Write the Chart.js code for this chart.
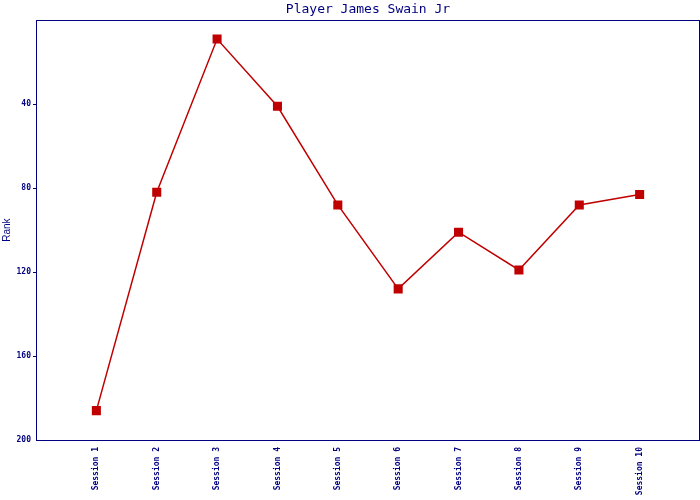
<!DOCTYPE html>
<html>
<head>
<meta charset="utf-8">
<script src="https://cdn.jsdelivr.net/npm/chart.js@4/dist/chart.umd.min.js"></script>
<style>
  html, body { margin: 0; padding: 0; background: #ffffff; }
  #wrap { width: 700px; height: 500px; }
</style>
</head>
<body>
<div id="wrap"><canvas id="rankChart"></canvas></div>
<script>
    // sessions along the x axis
    const sessions = ["Session 1", "Session 2", "Session 3", "Session 4", "Session 5",
                      "Session 6", "Session 7", "Session 8", "Session 9", "Session 10"];
    // rank of the player in each session
    const ranks = [186, 82, 9, 41, 88, 128, 101, 119, 88, 83];
    // y tick values
    const rankTicks = [0, 40, 80, 120, 160, 200];

    const navy = "#000080";
    const red = "#C00000";

    // build points, session n sits at x = n
    const points = ranks.map(function (r, i) {
        return { x: i + 1, y: r };
    });

    // draws the box round the plot area
    const frame = {
        id: "frame",
        afterDraw: function (chart) {
            const a = chart.chartArea;
            const ctx = chart.ctx;
            ctx.save();
            ctx.strokeStyle = navy;
            ctx.lineWidth = 1;
            ctx.strokeRect(Math.round(a.left) + 0.5, Math.round(a.top) + 0.5,
                Math.round(a.right - a.left) - 1, Math.round(a.bottom - a.top));
            ctx.restore();
        }
    };

    new Chart("rankChart", {
        type: "line",
        data: {
            datasets: [{
                data: points,
                borderColor: red,
                borderWidth: 1.5,
                backgroundColor: red,
                pointStyle: "rect",
                pointRadius: 6.4,
                pointBorderWidth: 0,
                pointBackgroundColor: red,
                tension: 0
            }]
        },
        options: {
            responsive: true,
            maintainAspectRatio: false,
            animation: false,
            layout: { autoPadding: false, padding: { right: 0, left: 0, top: 0, bottom: 0 } },
            plugins: {
                legend: { display: false },
                tooltip: { enabled: false },
                title: {
                    display: true,
                    text: "Player James Swain Jr",
                    fullSize: false,
                    color: navy,
                    font: { family: "DejaVu Sans Mono", size: 13, weight: "normal" },
                    padding: { top: 2, bottom: 2.6 }
                }
            },
            scales: {
                x: {
                    type: "linear",
                    min: 0,
                    max: sessions.length + 1,
                    afterBuildTicks: function (scale) {
                        scale.ticks = sessions.map(function (s, i) { return { value: i + 1 }; });
                    },
                    afterFit: function (scale) {
                        scale.height = 60;
                        scale.paddingLeft = 0;
                        scale.paddingRight = 0;
                    },
                    grid: { display: false },
                    border: { display: true, color: navy, width: 1 },
                    ticks: {
                        autoSkip: false,
                        maxRotation: 90,
                        minRotation: 90,
                        padding: -1,
                        color: navy,
                        font: { family: "DejaVu Sans Mono", size: 8, weight: "bold" },
                        callback: function (value) {
                            return sessions[value - 1] || "";
                        }
                    }
                },
                y: {
                    reverse: true,
                    min: 0,
                    max: 200,
                    afterBuildTicks: function (scale) {
                        scale.ticks = rankTicks.map(function (v) { return { value: v }; });
                    },
                    afterFit: function (scale) {
                        scale.width = 36;
                        scale.paddingTop = 0;
                        scale.paddingBottom = 0;
                    },
                    grid: {
                        drawOnChartArea: false,
                        drawTicks: true,
                        tickLength: 3,
                        color: function (ctx) {
                            const v = ctx.tick ? ctx.tick.value : null;
                            return (v === 0 || v === 200) ? "rgba(0,0,0,0)" : navy;
                        }
                    },
                    border: { display: true, color: navy, width: 1 },
                    title: {
                        display: true,
                        text: "Rank",
                        color: navy,
                        font: { family: "Liberation Sans", size: 10 },
                        padding: { top: 1, bottom: 0 }
                    },
                    ticks: {
                        padding: 2,
                        color: navy,
                        font: { family: "DejaVu Sans Mono", size: 8, weight: "bold" },
                        callback: function (value) {
                            return value === 0 ? "" : value;
                        }
                    }
                }
            }
        },
        plugins: [frame]
    });
</script>
</body>
</html>
